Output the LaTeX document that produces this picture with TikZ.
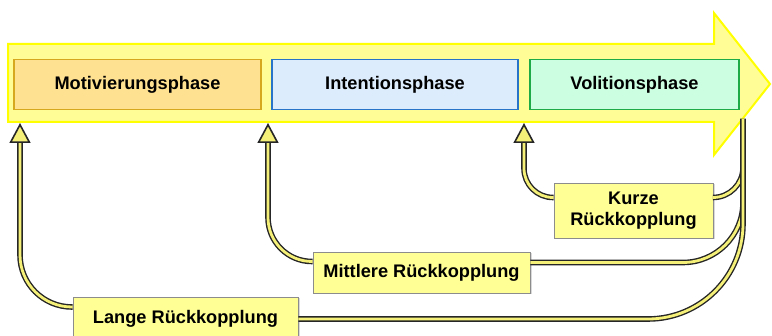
\documentclass[tikz,border=0pt]{standalone}
\usepackage{fontspec}
\setmainfont{Liberation Sans}
\usepackage{tikz}
\usetikzlibrary{calc,arrows.meta,shadows}
\definecolor{arrowfill}{RGB}{255,253,150}
\definecolor{arrowline}{RGB}{255,255,0}
\definecolor{motivfill}{RGB}{255,226,145}
\definecolor{motivline}{RGB}{214,168,30}
\definecolor{intentfill}{RGB}{220,236,252}
\definecolor{intentline}{RGB}{40,116,200}
\definecolor{volitfill}{RGB}{204,255,226}
\definecolor{volitline}{RGB}{30,170,70}
\definecolor{loopfill}{RGB}{255,255,150}
\definecolor{loopcore}{RGB}{245,240,120}

\tikzset{
  phase/.style={draw, line width=1.5pt, minimum height=50pt, inner sep=0pt,
    font=\bfseries\fontsize{18.2}{21}\selectfont},
  loopbox/.style={draw=black!45, fill=loopfill, line width=0.6pt, align=center,
    inner sep=0pt, font=\bfseries\fontsize{18.2}{21}\selectfont,
    drop shadow={shadow xshift=1.5pt, shadow yshift=-1.5pt, opacity=0.3}},
  loopline/.style={draw=black!85, line width=1.4pt, double=loopcore,
    double distance=2.8pt, rounded corners=#1},
  looptip/.style={-{Triangle[length=20pt,width=21pt,fill=loopcore,line width=1.6pt]}}
}

\begin{document}
\begin{tikzpicture}[x=1pt,y=1pt,yscale=-1,xscale=1]
\useasboundingbox (0,0) rectangle (772,336);

%Shape: Right Arrow
\draw [draw=arrowline, fill=arrowfill, line width=2pt] (8,44) -- (714,44) -- (714,13) -- (770,84) -- (714,155) -- (714,122) -- (8,122) -- cycle ;

% Phase Nodes
\node [phase, fill=motivfill, draw=motivline, minimum width=247pt] (motiv) at (137.5,84.5) {Motivierungsphase};
\node [phase, fill=intentfill, draw=intentline, minimum width=246pt] (intent) at (395,84.5) {Intentionsphase};
\node [phase, fill=volitfill, draw=volitline, minimum width=209pt] (volit) at (634.5,84.5) {Volitionsphase};

% Feedback ends
\coordinate (quelle) at (743,119);
\coordinate (ziel1) at (20,123);
\coordinate (ziel2) at (268,123);
\coordinate (ziel3) at (524,123);

% Text Node
\node [loopbox, minimum width=159pt, minimum height=55pt] (kurz) at (633.5,210.5) {Kurze\\Rückkopplung};
% Text Node
\node [loopbox, minimum width=217pt, minimum height=41pt] (mittel) at (421.5,272.5) {Mittlere Rückkopplung};
% Text Node
\node [loopbox, minimum width=225pt, minimum height=44pt] (lang) at (185.5,319) {Lange Rückkopplung};

%Curve Lines
\draw [loopline=30pt] (quelle) |- ($(kurz.east)+(0,-13)$) ;
\draw [loopline=29pt, looptip] ($(kurz.west)+(0,-13)$) -| (ziel3) ;
%Curve Lines
\draw [loopline=60pt] (quelle) |- ($(mittel.east)+(0,-10)$) ;
\draw [loopline=44pt, looptip] ($(mittel.west)+(0,-11)$) -| (ziel2) ;
%Curve Lines
\draw [loopline=95pt] (quelle) |- (lang.east) ;
\draw [loopline=52pt, looptip] ($(lang.west)+(0,-12)$) -| (ziel1) ;

\end{tikzpicture}
\end{document}
